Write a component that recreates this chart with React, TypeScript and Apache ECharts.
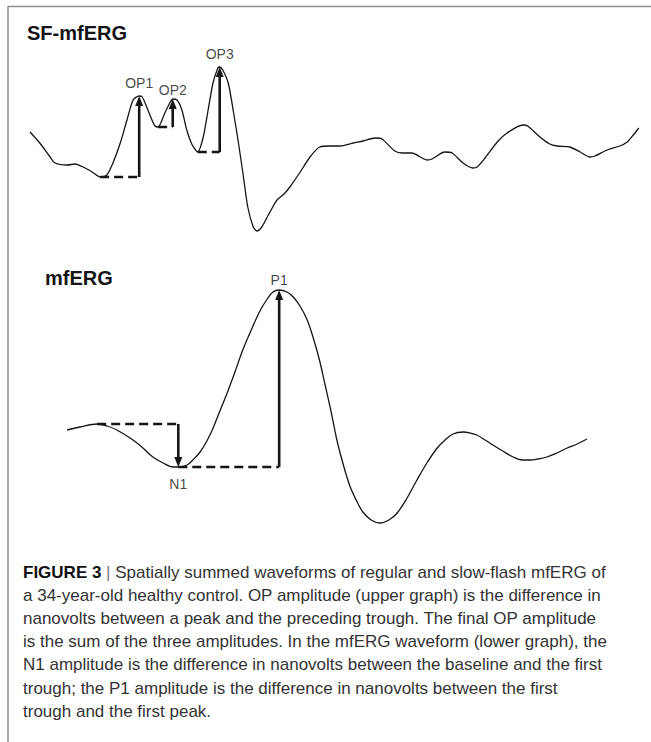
import React, { useEffect, useRef } from "react";
import * as echarts from "echarts";

// Slow-flash mfERG (SF-mfERG) summed trace: time in ms, amplitude in nV
const sfTime = [
  0.0, 1.6, 3.3, 4.1, 6.1, 7.4, 8.7, 10.2, 11.5, 12.6, 13.6, 14.8, 15.9, 16.9, 17.9, 18.4,
  19.2, 20.0, 20.5, 21.0, 22.1, 23.0, 23.4, 24.1, 24.9, 25.7, 26.6, 27.5, 28.4, 29.2, 30.0,
  30.8, 31.1, 31.6, 32.5, 33.3, 34.1, 34.9, 35.7, 36.6, 37.2, 38.0, 38.9, 39.7, 40.5, 41.8,
  42.6, 44.3, 45.9, 47.5, 49.2, 50.8, 53.0, 54.6, 56.6, 57.7, 59.8, 61.0, 62.6, 65.1, 65.9,
  68.0, 69.2, 71.0, 72.6, 73.3, 74.6, 76.6, 78.2, 80.8, 81.6, 83.6, 85.2, 86.4, 88.5, 90.2,
  91.8, 92.6, 94.6, 96.7, 97.9, 98.9, 99.8,
];
const sfAmp = [
  18, 7, -7, -13, -15, -14, -17, -22, -27, -25, -13, 7, 30, 50, 54, 53,
  42, 30, 24, 23, 37, 48, 51, 50, 40, 20, 5, -2, 13, 40, 67,
  82, 83, 80, 67, 40, 10, -23, -57, -77, -81, -77, -67, -58, -50, -43,
  -37, -22, -7, 3, 4, 4, 7, 9, 12, 11, -1, -3, -3, -10, -9,
  -2, -3, -13, -18, -17, -8, 8, 17, 25, 24, 13, 6, 4, 3, -2,
  -7, -6, 0, 4, 8, 15, 22,
];

// Oscillatory potentials: preceding trough and peak of each
const opNames = ["OP1", "OP2", "OP3"];
const opTroughTime = [11.5, 21.0, 27.5];
const opTroughAmp = [-27, 23, -2];
const opPeakTime = [17.9, 23.4, 31.1];
const opPeakAmp = [54, 51, 83];

// Regular mfERG summed trace: time in ms, amplitude in nV
const mfTime = [
  0.0, 2.5, 5.8, 7.7, 9.6, 12.7, 14.6, 16.5, 18.5, 20.4, 21.4, 23.1, 24.2, 25.6, 26.9, 28.1,
  29.4, 30.8, 32.3, 33.8, 35.6, 37.1, 38.5, 39.6, 40.8, 42.3, 43.5, 44.8, 46.2, 47.3, 48.5,
  49.6, 50.8, 51.9, 53.1, 54.4, 55.8, 56.9, 58.5, 60.2, 61.9, 63.5, 65.4, 67.3, 69.2, 71.2,
  72.7, 74.2, 76.2, 77.5, 78.8, 80.4, 81.9, 83.8, 85.8, 87.5, 89.0, 90.6, 92.3, 94.2, 96.2,
  98.1, 100.0,
];
const mfAmp = [
  -6, -3, 0, -2, -6, -16, -24, -33, -39, -43, -43, -41, -36, -28, -17, -4,
  13, 31, 52, 74, 96, 113, 125, 132, 134, 132, 127, 118, 104, 87, 65,
  40, 12, -16, -40, -62, -78, -88, -96, -99, -96, -89, -74, -56, -39, -24,
  -16, -10, -8, -9, -11, -16, -21, -27, -33, -36, -36, -35, -33, -29, -24,
  -20, -15,
];

// N1 / P1 measurement points
const baselineTime = 5.8;
const baselineAmp = 0;
const n1Time = 21.4;
const n1Amp = -43;
const p1Time = 40.8;
const p1Amp = 134;

const titles = ["SF-mfERG", "mfERG"];
const captionLead = "FIGURE 3";
const captionLines = [
  "Spatially summed waveforms of regular and slow-flash mfERG of",
  "a 34-year-old healthy control. OP amplitude (upper graph) is the difference in",
  "nanovolts between a peak and the preceding trough. The final OP amplitude",
  "is the sum of the three amplitudes. In the mfERG waveform (lower graph), the",
  "N1 amplitude is the difference in nanovolts between the baseline and the first",
  "trough; the P1 amplitude is the difference in nanovolts between the first",
  "trough and the first peak.",
];

const FONT = "'Liberation Sans', Arial, Helvetica, sans-serif";
const INK = "#151515";

const zip = (xs: number[], ys: number[]) => xs.map((x, i) => [x, ys[i]]);

// kind 0 = dashed level line, 1 = solid arrow ending at (x2, y2)
function renderMeasure(params: any, api: any) {
  const a = api.coord([api.value(0), api.value(1)]);
  const b = api.coord([api.value(2), api.value(3)]);
  const kind = api.value(4);
  if (kind === 0) {
    return {
      type: "line",
      shape: { x1: a[0], y1: a[1], x2: b[0], y2: b[1] },
      style: { stroke: INK, lineWidth: 2.6, lineDash: [9, 5] },
    };
  }
  const dx = b[0] - a[0];
  const dy = b[1] - a[1];
  const len = Math.sqrt(dx * dx + dy * dy) || 1;
  const ux = dx / len;
  const uy = dy / len;
  const head = 10;
  const half = 4;
  const bx = b[0] - ux * head;
  const by = b[1] - uy * head;
  return {
    type: "group",
    children: [
      {
        type: "line",
        shape: { x1: a[0], y1: a[1], x2: bx + ux * 1, y2: by + uy * 1 },
        style: { stroke: INK, lineWidth: 2.6 },
      },
      {
        type: "polygon",
        shape: {
          points: [
            [b[0], b[1]],
            [bx - uy * half, by + ux * half],
            [bx + uy * half, by - ux * half],
          ],
        },
        style: { fill: INK },
      },
    ],
  };
}

export default function App() {
  const ref = useRef<HTMLDivElement>(null);

  useEffect(() => {
    if (!ref.current) return;
    const chart = echarts.init(ref.current, undefined, { renderer: "svg" });

    const opMeasures: any[] = [];
    opNames.forEach((_, i) => {
      opMeasures.push([opTroughTime[i], opTroughAmp[i], opPeakTime[i], opTroughAmp[i], 0]);
      opMeasures.push([opPeakTime[i], opTroughAmp[i], opPeakTime[i], opPeakAmp[i], 1]);
    });

    const mfMeasures = [
      [baselineTime, baselineAmp, n1Time, baselineAmp, 0],
      [n1Time, baselineAmp, n1Time, n1Amp, 1],
      [n1Time, n1Amp, p1Time, n1Amp, 0],
      [p1Time, n1Amp, p1Time, p1Amp, 1],
    ];

    const labelBase = { show: true, color: INK, fontSize: 14, fontFamily: FONT };
    const opLabelDist = [6, 2, 6];

    chart.setOption({
      animation: false,
      backgroundColor: "#ffffff",
      grid: [
        { left: 30, width: 610, top: 50, height: 200 },
        { left: 67, width: 520, top: 274, height: 300 },
      ],
      xAxis: [
        { type: "value", gridIndex: 0, min: 0, max: 100, show: false },
        { type: "value", gridIndex: 1, min: 0, max: 100, show: false },
      ],
      yAxis: [
        { type: "value", gridIndex: 0, min: -100, max: 100, show: false },
        { type: "value", gridIndex: 1, min: -150, max: 150, show: false },
      ],
      series: [
        {
          type: "line",
          xAxisIndex: 0,
          yAxisIndex: 0,
          data: zip(sfTime, sfAmp),
          showSymbol: false,
          smooth: 0.25,
          lineStyle: { color: INK, width: 1.3 },
          z: 2,
        },
        {
          type: "custom",
          coordinateSystem: "cartesian2d",
          xAxisIndex: 0,
          yAxisIndex: 0,
          data: opMeasures,
          renderItem: renderMeasure,
          z: 3,
        },
        {
          type: "scatter",
          xAxisIndex: 0,
          yAxisIndex: 0,
          symbolSize: 0,
          itemStyle: { color: "transparent" },
          data: opNames.map((name, i) => ({
            name,
            value: [opPeakTime[i], opPeakAmp[i]],
            label: { ...labelBase, position: "top", distance: opLabelDist[i], formatter: name },
          })),
          z: 4,
        },
        {
          type: "line",
          xAxisIndex: 1,
          yAxisIndex: 1,
          data: zip(mfTime, mfAmp),
          showSymbol: false,
          smooth: 0.35,
          lineStyle: { color: INK, width: 1.3 },
          z: 2,
        },
        {
          type: "custom",
          coordinateSystem: "cartesian2d",
          xAxisIndex: 1,
          yAxisIndex: 1,
          data: mfMeasures,
          renderItem: renderMeasure,
          z: 3,
        },
        {
          type: "scatter",
          xAxisIndex: 1,
          yAxisIndex: 1,
          symbolSize: 0,
          itemStyle: { color: "transparent" },
          data: [
            {
              name: "P1",
              value: [p1Time, p1Amp],
              label: { ...labelBase, position: "top", distance: 3, formatter: "P1" },
            },
            {
              name: "N1",
              value: [n1Time, n1Amp],
              label: { ...labelBase, position: "bottom", distance: 10, formatter: "N1" },
            },
          ],
          z: 4,
        },
      ],
      graphic: [
        // figure frame
        {
          type: "line",
          shape: { x1: 8, y1: 6.5, x2: 651, y2: 6.5 },
          style: { stroke: "#8e8e8e", lineWidth: 1.5 },
        },
        {
          type: "line",
          shape: { x1: 8, y1: 6, x2: 8, y2: 742 },
          style: { stroke: "#8e8e8e", lineWidth: 1.5 },
        },
        {
          type: "text",
          x: 27,
          y: 33,
          style: {
            text: titles[0],
            fill: INK,
            font: `bold 20px ${FONT}`,
            verticalAlign: "middle",
          },
        },
        {
          type: "text",
          x: 45,
          y: 278,
          style: {
            text: titles[1],
            fill: INK,
            font: `bold 20px ${FONT}`,
            verticalAlign: "middle",
          },
        },
        ...captionLines.map((line, i) => ({
          type: "text",
          x: 23,
          y: 572 + i * 23.2,
          style:
            i === 0
              ? {
                  text: `{b|${captionLead}} {s||} {n|${line}}`,
                  verticalAlign: "middle",
                  rich: {
                    b: { font: `bold 17px ${FONT}`, fill: "#111" },
                    s: { font: `17px ${FONT}`, fill: "#777" },
                    n: { font: `17px ${FONT}`, fill: "#333" },
                  },
                  font: `17px ${FONT}`,
                  fill: "#333",
                }
              : {
                  text: line,
                  font: `17px ${FONT}`,
                  fill: "#333",
                  verticalAlign: "middle",
                },
        })),
      ],
    });

    return () => chart.dispose();
  }, []);

  return (
    <div
      ref={ref}
      style={{ position: "absolute", left: 0, top: 0, width: 651, height: 742 }}
    />
  );
}
